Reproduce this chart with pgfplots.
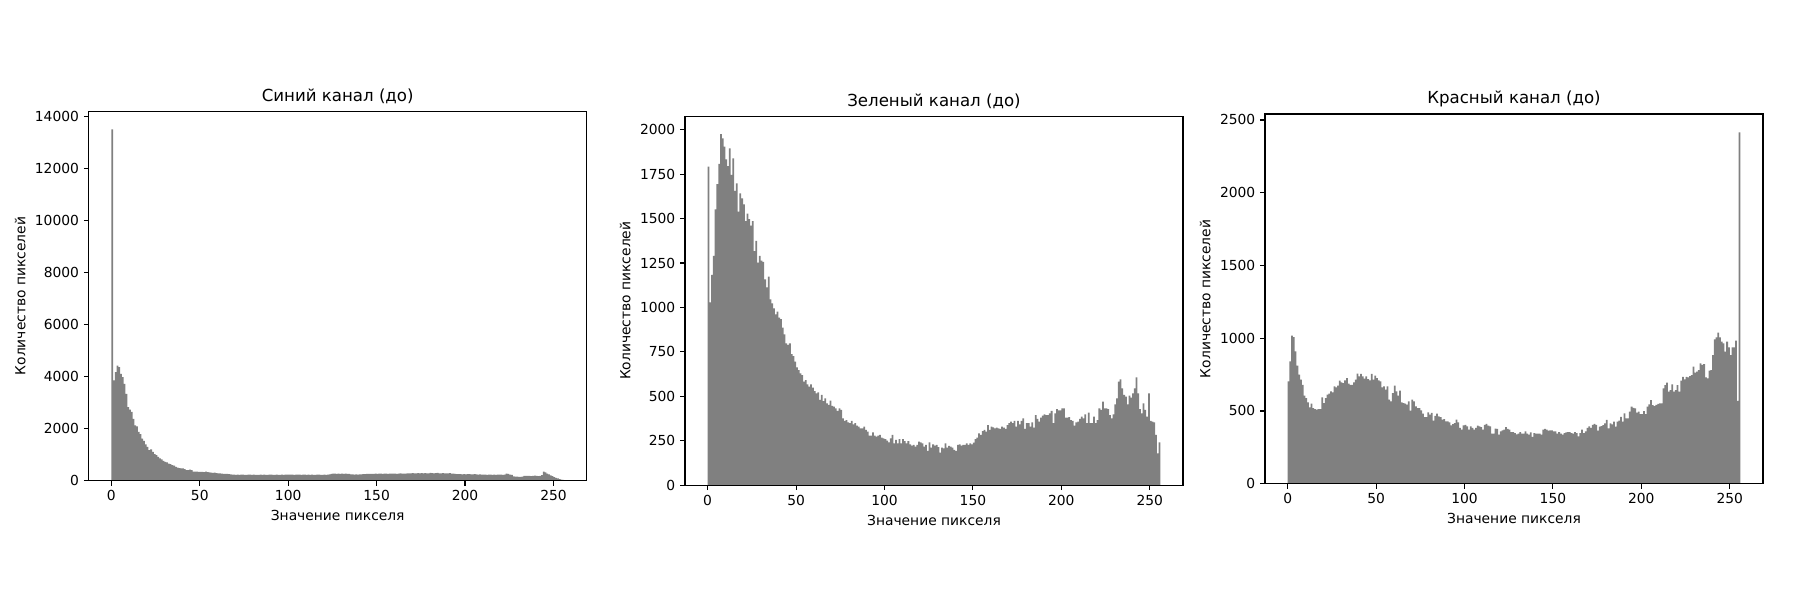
\documentclass[border=0pt]{standalone}
\usepackage{fontspec}
\setmainfont{DejaVu Sans}
\usepackage{pgfplots}
\usepackage{pgfplotstable}
\pgfplotsset{compat=1.18}

% Blue channel counts, bins 0..255 (last value repeated for the closing edge at 256)
\pgfplotstableread[row sep=\\]{
v\\
13500\\3850\\4170\\4420\\4360\\4100\\3980\\3720\\3340\\2830\\2730\\2640\\2380\\2130\\2090\\1875\\1785\\1620\\1530\\1400\\
1300\\1170\\1200\\1110\\1020\\980\\920\\855\\815\\765\\727\\700\\660\\640\\600\\575\\535\\500\\485\\470\\
470\\445\\410\\410\\430\\410\\345\\345\\350\\340\\335\\340\\330\\345\\325\\320\\315\\300\\310\\290\\
285\\280\\270\\262\\258\\262\\250\\245\\
235\\230\\228\\232\\225\\230\\234\\228\\226\\232\\229\\224\\231\\227\\220\\228\\233\\226\\230\\225\\222\\229\\231\\224\\227\\232\\226\\221\\230\\228\\233\\229\\236\\
232\\235\\228\\230\\236\\229\\226\\233\\231\\225\\230\\228\\234\\227\\222\\229\\231\\226\\220\\232\\228\\235\\240\\
262\\268\\270\\265\\272\\266\\270\\264\\268\\262\\258\\
245\\240\\238\\242\\236\\244\\240\\248\\
255\\262\\258\\266\\260\\264\\270\\262\\268\\272\\265\\270\\274\\266\\271\\268\\276\\270\\266\\274\\280\\272\\268\\276\\282\\
285\\278\\290\\282\\286\\294\\280\\288\\284\\292\\286\\280\\298\\288\\284\\290\\296\\285\\280\\292\\286\\282\\278\\288\\274\\268\\262\\
252\\248\\255\\246\\250\\244\\252\\248\\240\\246\\250\\242\\238\\244\\236\\
232\\238\\228\\235\\230\\226\\234\\228\\232\\236\\230\\225\\232\\
270\\265\\232\\225\\
165\\152\\158\\150\\148\\160\\
182\\185\\190\\188\\178\\185\\192\\186\\180\\188\\210\\
350\\320\\275\\240\\205\\175\\135\\110\\85\\62\\45\\35\\
35\\
}\tblB

% Green channel counts
\pgfplotstableread[row sep=\\]{
v\\
1792\\1029\\1183\\1290\\1552\\1694\\1807\\1975\\1951\\1904\\1833\\1795\\1895\\1745\\1838\\1655\\1698\\1539\\1642\\1614\\
1580\\1486\\1527\\1497\\1460\\1486\\1317\\1374\\1252\\1290\\1263\\1257\\1158\\1113\\1173\\1046\\1023\\995\\961\\976\\
943\\935\\886\\849\\798\\789\\798\\738\\727\\695\\663\\648\\630\\620\\583\\592\\568\\555\\568\\549\\
530\\517\\523\\480\\508\\474\\489\\461\\452\\476\\446\\442\\433\\418\\433\\424\\377\\362\\367\\354\\
349\\362\\343\\349\\335\\330\\320\\320\\330\\311\\302\\279\\279\\298\\279\\274\\279\\283\\268\\264\\
260\\251\\242\\264\\283\\236\\255\\236\\260\\236\\260\\249\\236\\249\\230\\223\\227\\217\\227\\245\\
242\\236\\217\\227\\193\\242\\212\\230\\223\\227\\214\\184\\212\\208\\236\\212\\221\\217\\212\\199\\
193\\227\\230\\223\\227\\227\\236\\227\\236\\230\\240\\260\\268\\292\\283\\305\\311\\302\\339\\311\\
330\\326\\320\\324\\320\\317\\330\\324\\317\\339\\349\\358\\349\\362\\330\\362\\343\\362\\377\\317\\
349\\349\\330\\354\\324\\395\\373\\358\\380\\392\\399\\395\\395\\405\\418\\349\\405\\429\\422\\422\\
433\\433\\380\\380\\384\\367\\362\\335\\354\\358\\373\\386\\377\\399\\349\\409\\349\\349\\386\\349\\
367\\433\\424\\470\\433\\433\\429\\395\\377\\399\\455\\489\\583\\596\\545\\508\\498\\455\\504\\493\\
517\\545\\607\\517\\429\\405\\461\\424\\386\\517\\362\\358\\354\\283\\180\\242\\
242\\
}\tblG

% Red channel counts
\pgfplotstableread[row sep=\\]{
v\\
703\\841\\1017\\1008\\910\\811\\749\\715\\680\\605\\589\\559\\525\\550\\520\\513\\509\\513\\513\\593\\
554\\589\\612\\619\\635\\628\\669\\662\\674\\708\\696\\692\\710\\726\\687\\680\\680\\696\\715\\756\\
738\\754\\738\\722\\738\\719\\710\\754\\715\\742\\726\\710\\703\\662\\669\\646\\669\\577\\566\\623\\
674\\635\\605\\639\\559\\554\\550\\543\\566\\502\\577\\566\\532\\520\\520\\504\\481\\458\\458\\490\\
474\\486\\433\\467\\481\\463\\458\\440\\444\\428\\428\\422\\401\\410\\417\\440\\422\\383\\371\\401\\
405\\394\\371\\394\\383\\371\\383\\399\\394\\389\\371\\405\\412\\399\\394\\344\\344\\378\\376\\337\\
360\\367\\371\\389\\376\\371\\355\\355\\348\\339\\344\\355\\344\\344\\360\\344\\337\\353\\321\\348\\
344\\344\\344\\337\\371\\376\\371\\364\\367\\367\\360\\360\\344\\355\\344\\337\\348\\353\\355\\355\\
348\\344\\355\\348\\325\\348\\371\\348\\360\\383\\394\\383\\405\\412\\405\\365\\392\\396\\403\\415\\
438\\380\\415\\408\\426\\392\\426\\433\\460\\426\\483\\449\\449\\495\\529\\522\\518\\488\\495\\479\\
479\\499\\479\\529\\545\\575\\540\\534\\541\\548\\552\\552\\655\\678\\694\\632\\644\\683\\632\\644\\
678\\632\\708\\735\\717\\735\\731\\740\\747\\804\\763\\770\\781\\827\\816\\822\\731\\724\\777\\781\\
884\\992\\1006\\1038\\1006\\976\\965\\907\\976\\937\\884\\937\\937\\983\\570\\2415\\
2415\\
}\tblR

\pgfplotsset{
  histax/.style={
    scale only axis,
    width=4.98in,
    anchor=south west,
    xmin=-12.8, xmax=268.8,
    ymin=0,
    xtick={0,50,100,150,200,250},
    tick align=outside,
    xtick pos=bottom, ytick pos=left,
    major tick length=3.5pt,
    axis line style={line width=0.8pt},
    every tick/.style={black, line width=0.8pt},
    scaled y ticks=false,
    ticklabel style={font=\fontsize{10}{12}\selectfont},
    /pgf/number format/.cd, 1000 sep={}, assume math mode=true, /pgfplots/.cd,
    title style={font=\fontsize{12}{14.4}\selectfont, inner sep=0pt, yshift=-1pt},
    label style={font=\fontsize{10}{12}\selectfont},
    xlabel={Значение пикселя},
    ylabel={Количество пикселей},
    axis on top,
  },
}

\begin{document}
\begin{tikzpicture}
\useasboundingbox (0,0) rectangle (18in,6in);

\begin{axis}[histax, at={(0.887in,1.193in)}, height=3.694in,
  ymax=14192, ytick={0,2000,4000,6000,8000,10000,12000,14000},
  title={Синий канал (до)}]
\addplot[fill=gray, draw=none, const plot mark left] table[x expr=\coordindex, y=v] {\tblB} \closedcycle;
\end{axis}

\begin{axis}[histax, at={(6.85in,1.147in)}, height=3.69in,
  ymax=2075, ytick={0,250,500,750,1000,1250,1500,1750,2000},
  title={Зеленый канал (до)}]
\addplot[fill=gray, draw=none, const plot mark left] table[x expr=\coordindex, y=v] {\tblG} \closedcycle;
\end{axis}

\begin{axis}[histax, at={(12.65in,1.163in)}, height=3.697in,
  ymax=2541, ytick={0,500,1000,1500,2000,2500},
  title={Красный канал (до)}]
\addplot[fill=gray, draw=none, const plot mark left] table[x expr=\coordindex, y=v] {\tblR} \closedcycle;
\end{axis}
\end{tikzpicture}
\end{document}
